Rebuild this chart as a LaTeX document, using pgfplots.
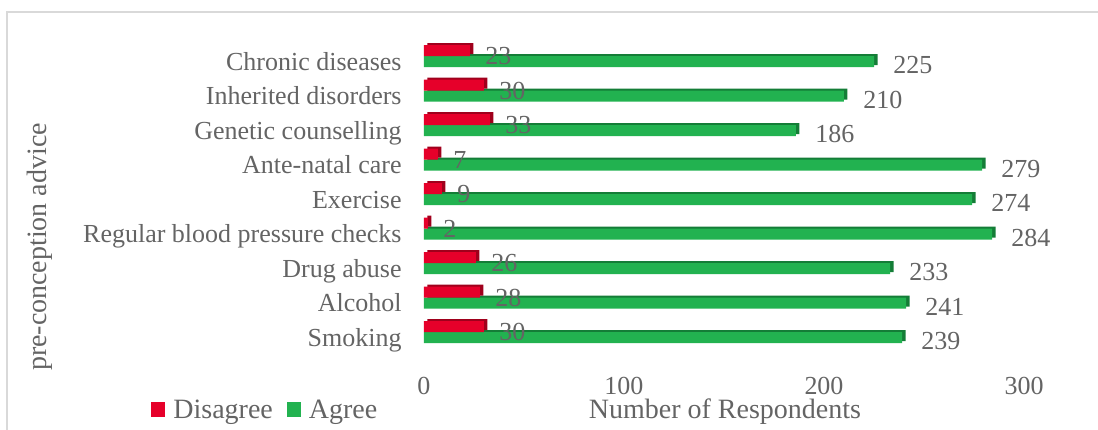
\documentclass[border=0pt]{standalone}
\usepackage{pgfplots}
\pgfplotsset{compat=1.18}
\usepackage{pgfplotstable}
\usepackage{fontspec}
\setmainfont{Liberation Serif}
\definecolor{txt}{RGB}{100,100,100}
\definecolor{cred}{RGB}{230,0,42}
\definecolor{cdred}{RGB}{160,0,28}
\definecolor{cgreen}{RGB}{34,178,80}
\definecolor{cdgreen}{RGB}{20,125,55}
\definecolor{frame}{RGB}{217,217,217}
\pgfplotstableread{
y dis agr
0 30 239
1 28 241
2 26 233
3 2 284
4 9 274
5 7 279
6 33 186
7 30 210
8 23 225
}\datatable
\newcommand{\lblfont}{\fontsize{13pt}{15pt}\selectfont}
\newcommand{\ttlfont}{\fontsize{14pt}{16pt}\selectfont}
\begin{document}
\begin{tikzpicture}
\path[use as bounding box] (-212pt,-29.5pt) rectangle (337pt,185pt);
\draw[frame, line width=0.75pt] (-208.5pt,-40pt) -- (-208.5pt,179pt) -- (345pt,179pt);
\begin{axis}[at={(0pt,0pt)}, anchor=south west, scale only axis,
  width=300pt, height=172.5pt,
  xmin=0, xmax=300, ymin=-1.1, ymax=8.9,
  xbar, bar width=5.5pt, clip=false,
  axis line style={draw=none}, major tick length=0pt,
  /pgf/number format/assume math mode=true,
  xtick={0,100,200,300}, ytick={0,...,8},
  yticklabels={Smoking, Alcohol, Drug abuse, Regular blood pressure checks, Exercise, Ante-natal care, Genetic counselling, Inherited disorders, Chronic diseases},
  xticklabel style={font=\lblfont, text=txt, anchor=base, inner sep=0pt, yshift=-12pt},
  yticklabel style={font=\lblfont, text=txt, anchor=base east, inner sep=0pt, xshift=-11pt, yshift=-7pt},
  legend style={at={(-0.455,-0.117)}, anchor=west, draw=none, fill=none, font=\ttlfont, text=txt,
    legend columns=2, inner sep=0pt,
    nodes={inner sep=0pt},
    /tikz/every odd column/.append style={column sep=4pt},
    /tikz/every even column/.append style={column sep=7pt}},
  legend image code/.code={\draw[#1,draw=none] (0pt,-3.25pt) rectangle (7pt,4.25pt);},
  reverse legend,
]
% Agree (green) with 3D side
\addplot[forget plot, fill=cdgreen, draw=none, bar shift=-2.75pt, xshift=1.75pt, yshift=1pt] table[x=agr,y=y]{\datatable};
\addplot[fill=cgreen, draw=none, bar shift=-2.75pt,
  nodes near coords, every node near coord/.append style={font=\lblfont, text=txt, anchor=base west, inner sep=0pt, xshift=9.5pt, yshift=-6pt}]
  table[x=agr,y=y]{\datatable};
\addlegendentry{Agree}
% Disagree (red) with 3D side
\addplot[forget plot, fill=cdred, draw=none, bar shift=2.75pt, xshift=1.75pt, yshift=1pt] table[x=dis,y=y]{\datatable};
\addplot[fill=cred, draw=none, bar shift=2.75pt,
  nodes near coords, every node near coord/.append style={font=\lblfont, text=txt, anchor=base west, inner sep=0pt, xshift=7.5pt, yshift=-7pt}]
  table[x=dis,y=y]{\datatable};
\addlegendentry{Disagree}
\end{axis}
\node[rotate=90, font=\ttlfont, text=txt] at (-192pt,61.5pt) {pre-conception advice};
\node[font=\ttlfont, text=txt] at (150.5pt,-21pt) {Number of Respondents};
\end{tikzpicture}
\end{document}
